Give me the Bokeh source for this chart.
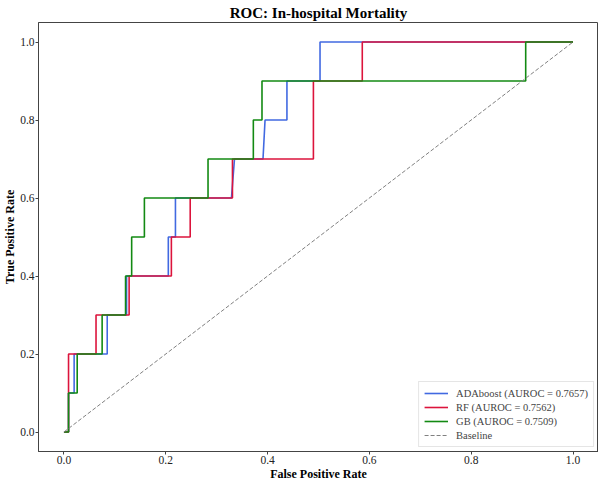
from bokeh.plotting import figure
from bokeh.models import FixedTicker, Legend, LegendItem
from bokeh.embed import file_html
from bokeh.resources import INLINE

# ---- data ----
ada_fpr = [0.0, 0.009, 0.009, 0.020, 0.020, 0.085, 0.085, 0.123, 0.123, 0.205, 0.205, 0.219, 0.219,
           0.329, 0.335, 0.391, 0.395, 0.438, 0.438, 0.503, 0.503, 1.0]
ada_tpr = [0.0, 0.0, 0.1, 0.1, 0.2, 0.2, 0.3, 0.3, 0.4, 0.4, 0.5, 0.5, 0.6,
           0.6, 0.7, 0.7, 0.8, 0.8, 0.9, 0.9, 1.0, 1.0]

rf_fpr = [0.0, 0.009, 0.009, 0.063, 0.063, 0.128, 0.128, 0.211, 0.211, 0.248, 0.248,
          0.331, 0.331, 0.490, 0.490, 0.586, 0.586, 1.0]
rf_tpr = [0.0, 0.0, 0.2, 0.2, 0.3, 0.3, 0.4, 0.4, 0.5, 0.5, 0.6,
          0.6, 0.7, 0.7, 0.9, 0.9, 1.0, 1.0]

gb_fpr = [0.0, 0.009, 0.009, 0.026, 0.026, 0.075, 0.075, 0.121, 0.121, 0.133, 0.133, 0.158, 0.158,
          0.283, 0.283, 0.372, 0.372, 0.389, 0.389, 0.907, 0.907, 1.0]
gb_tpr = [0.0, 0.0, 0.1, 0.1, 0.2, 0.2, 0.3, 0.3, 0.4, 0.4, 0.5, 0.5, 0.6,
          0.6, 0.7, 0.7, 0.8, 0.8, 0.9, 0.9, 1.0, 1.0]

base_x = [0.0, 1.0]
base_y = [0.0, 1.0]

labels = ["ADAboost (AUROC = 0.7657)", "RF (AUROC = 0.7562)", "GB (AUROC = 0.7509)", "Baseline"]
ticks = [0.0, 0.2, 0.4, 0.6, 0.8, 1.0]
tick_labels = ["0.0", "0.2", "0.4", "0.6", "0.8", "1.0"]

FONT = "Liberation Serif"

p = figure(frame_width=560, frame_height=429, x_range=(-0.05, 1.05), y_range=(-0.05, 1.05),
           output_backend="svg", toolbar_location=None,
           min_border_left=0, min_border_right=0, min_border_top=0, min_border_bottom=0)

p.title.text = "ROC: In-hospital Mortality"
p.title.align = "center"
p.title.text_font = FONT
p.title.text_font_style = "bold"
p.title.text_font_size = "15px"
p.title.text_color = "black"
p.title.standoff = 4
p.title.offset = 0

p.xgrid.visible = False
p.ygrid.visible = False
p.outline_line_color = "#444444"
p.outline_line_width = 1

for ax, lab in ((p.xaxis, "False Positive Rate"), (p.yaxis, "True Positive Rate")):
    ax.ticker = FixedTicker(ticks=ticks)
    ax.major_label_overrides = {t: s for t, s in zip(ticks, tick_labels)}
    ax.axis_label = lab
    ax.axis_label_text_font = FONT
    ax.axis_label_text_font_style = "bold"
    ax.axis_label_text_font_size = "12px"
    ax.axis_label_text_color = "black"
    ax.major_label_text_font = FONT
    ax.major_label_text_font_size = "11.5px"
    ax.major_label_text_color = "#222222"
    ax.major_tick_in = 0
    ax.major_tick_out = 3
    ax.minor_tick_line_color = None
    ax.axis_line_color = "#444444"
    ax.major_tick_line_color = "#444444"
    ax.major_label_standoff = 1
    ax.axis_label_standoff = 0

r1 = p.line(ada_fpr, ada_tpr, line_color="#4169E1", line_width=1.6)
r2 = p.line(rf_fpr, rf_tpr, line_color="#DC143C", line_width=1.6)
r3 = p.line(gb_fpr, gb_tpr, line_color="#138a13", line_width=1.6)
r4 = p.line(base_x, base_y, line_color="grey", line_width=1, line_dash="4 2")

legend = Legend(items=[LegendItem(label=labels[0], renderers=[r1]),
                       LegendItem(label=labels[1], renderers=[r2]),
                       LegendItem(label=labels[2], renderers=[r3]),
                       LegendItem(label=labels[3], renderers=[r4])],
                location="bottom_right")
legend.label_text_font = FONT
legend.label_text_font_size = "10.5px"
legend.label_height = 12
legend.glyph_height = 12
legend.glyph_width = 24
legend.spacing = 2
legend.padding = 5
legend.margin = 4
legend.label_standoff = 8
legend.border_line_color = "#cccccc"
legend.background_fill_alpha = 0.8
p.add_layout(legend)

open("out.html", "w").write(file_html(p, INLINE))
